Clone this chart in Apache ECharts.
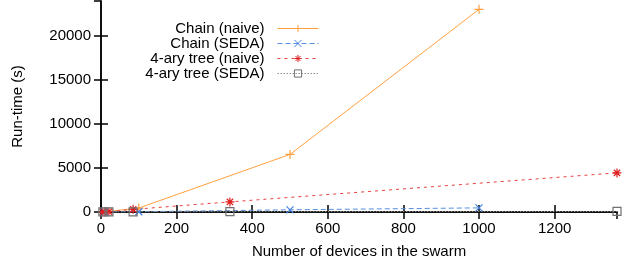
<!DOCTYPE html>
<html><head><meta charset="utf-8">
<script src="https://cdn.jsdelivr.net/npm/echarts@6/dist/echarts.min.js"></script>
<style>html,body{margin:0;padding:0;background:#fff}#c{width:628px;height:266px}</style>
</head><body><div id="c"></div>
<script>
const chainX = [10, 100, 500, 1000];
const chainNaive = [20, 450, 6550, 23050];
const chainSeda = [5, 30, 250, 470];
const treeX = [5, 21, 85, 341, 1365];
const treeNaive = [10, 40, 300, 1150, 4450];
const treeSeda = [5, 10, 20, 40, 60];
const seriesNames = ['Chain (naive)', 'Chain (SEDA)', '4-ary tree (naive)', '4-ary tree (SEDA)'];
const xTitle = 'Number of devices in the swarm';
const yTitle = 'Run-time (s)';

const pairs = (xs, ys) => xs.map((x, i) => [x, ys[i]]);
const FONT = 'Liberation Sans';
const plusPath = 'path://M0,5L10,5M5,0L5,10';
const crossPath = 'path://M0,0L10,10M10,0L0,10';
const starPath = 'path://M0,5L10,5M5,0L5,10M1.5,1.5L8.5,8.5M8.5,1.5L1.5,8.5';
const plain = v => String(v);

const chart = echarts.init(document.getElementById('c'), null, {renderer: 'canvas'});
const axisCommon = {
  axisLine: {lineStyle: {color: '#000', width: 1.5}},
  axisTick: {inside: true, length: 7, lineStyle: {color: '#000', width: 1.5}},
  splitLine: {show: false}
};
chart.setOption({
  animation: false,
  grid: {left: 101, right: 11, top: 1, bottom: 54},
  legend: {
    orient: 'vertical', align: 'right', right: 304, top: 16,
    itemWidth: 41, itemHeight: 9, itemGap: 0,
    lineStyle: {width: 1},
    itemStyle: {borderWidth: 1},
    textStyle: {fontFamily: FONT, fontSize: 15, color: '#000', padding: [0, 8, 0, 0]},
    data: seriesNames
  },
  xAxis: [
    Object.assign({type: 'value', min: 0, max: 1365, interval: 200,
      name: xTitle, nameLocation: 'middle', nameGap: 32,
      nameTextStyle: {fontFamily: FONT, fontSize: 15, color: '#000'},
      axisLabel: {fontFamily: FONT, fontSize: 15, color: '#000', margin: 9, showMaxLabel: false, formatter: plain}
    }, axisCommon),
    Object.assign({type: 'value', position: 'top', min: 0, max: 1365, interval: 200,
      axisLabel: {show: false}}, axisCommon)
  ],
  yAxis: [
    Object.assign({type: 'value', min: 0, max: 24000, interval: 5000,
      name: yTitle, nameLocation: 'middle', nameGap: 76,
      nameTextStyle: {fontFamily: FONT, fontSize: 15, color: '#000'},
      axisLabel: {fontFamily: FONT, fontSize: 15, color: '#000', margin: 10, showMaxLabel: false, formatter: plain}
    }, axisCommon),
    Object.assign({type: 'value', position: 'right', min: 0, max: 24000, interval: 5000,
      axisLabel: {show: false}}, axisCommon)
  ],
  series: [
    {name: seriesNames[0], type: 'line', data: pairs(chainX, chainNaive),
      symbol: plusPath, symbolSize: 9,
      lineStyle: {color: '#ffa040', width: 1},
      itemStyle: {color: 'none', borderColor: '#ffa040', borderWidth: 1.2}},
    {name: seriesNames[1], type: 'line', data: pairs(chainX, chainSeda),
      symbol: crossPath, symbolSize: 7,
      lineStyle: {color: '#5590e0', width: 1, type: [5, 3]},
      itemStyle: {color: 'none', borderColor: '#4080e0', borderWidth: 1.2}},
    {name: seriesNames[2], type: 'line', data: pairs(treeX, treeNaive),
      symbol: starPath, symbolSize: 9,
      lineStyle: {color: '#e84040', width: 1, type: [3, 4]},
      itemStyle: {color: 'none', borderColor: '#e02020', borderWidth: 1.2}},
    {name: seriesNames[3], type: 'line', data: pairs(treeX, treeSeda),
      symbol: 'rect', symbolSize: 8,
      lineStyle: {color: '#909090', width: 1, type: [1.5, 1.5]},
      itemStyle: {color: 'none', borderColor: '#707070', borderWidth: 1.2}}
  ]
});
</script></body></html>
